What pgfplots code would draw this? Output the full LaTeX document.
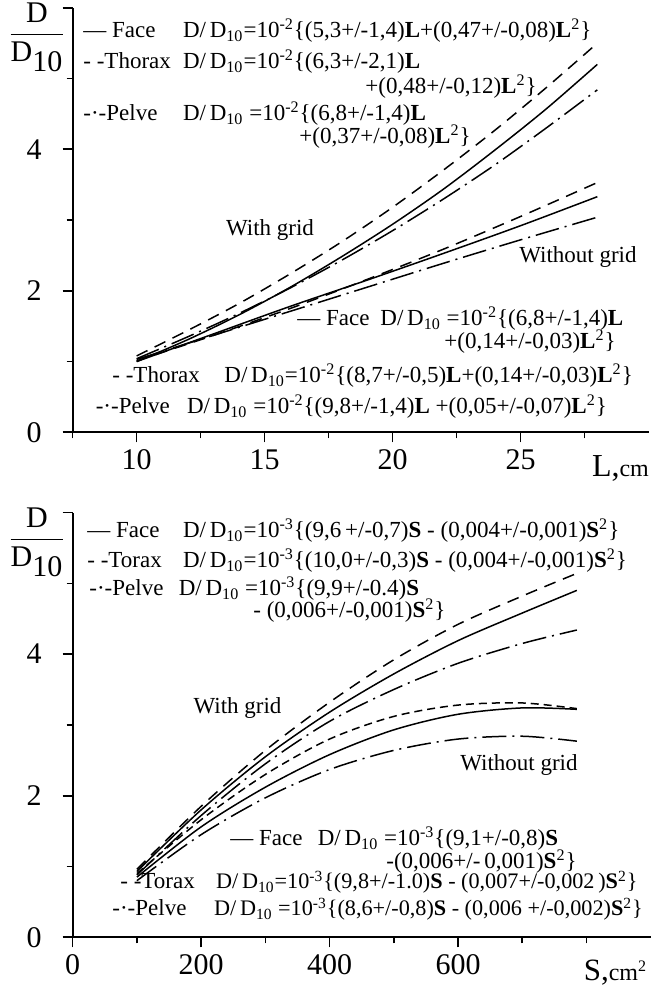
\documentclass[border=0pt]{standalone}
\usepackage{fontspec}
\setmainfont{Liberation Serif}
\usepackage{pgfplots}
\pgfplotsset{compat=1.18}

\newcommand\dd{D/\,D\textsubscript{10}}
\newcommand\Lb{\textbf{L}}
\newcommand\Lq{\textbf{L}\textsuperscript{2}}
\newcommand\Sb{\textbf{S}}
\newcommand\Sq{\textbf{S}\textsuperscript{2}}
\newcommand\txt{\fontsize{11.5}{13}\selectfont}

\pgfplotsset{
  panel/.style={
    anchor=south west, scale only axis,
    ymin=0, ymax=6,
    axis x line=bottom, axis y line=left,
    axis line style={-, line width=1pt},
    ytick={0,2,4,6}, yticklabels={0,2,4,{}},
    minor ytick={1,3,5},
    tick align=outside,
    major tick length=5pt, minor tick length=3pt,
    tick style={black, line width=0.8pt},
    ticklabel style={font=\fontsize{15}{15}\selectfont},
    yticklabel style={xshift=-7pt},
    /pgf/number format/assume math mode=true,
    clip=false,
  },
  face/.style={black, line width=0.75pt, smooth},
  thor/.style={black, line width=0.75pt, smooth, dash pattern=on 6pt off 4pt},
  thorb/.style={black, line width=0.75pt, smooth, dash pattern=on 4pt off 2.5pt},
  pelv/.style={black, line width=0.75pt, smooth, dash pattern=on 12pt off 3pt on 1pt off 3pt},
}

\begin{document}
\begin{tikzpicture}

% ---- top panel: D/D10 vs L
\begin{axis}[panel,
  at={(36.35pt,278.35pt)}, width=287.9pt, height=212.25pt,
  xmin=7.5, xmax=30,
  xtick={10,15,20,25}, minor xtick={7.5,12.5,17.5,22.5,27.5},
]
% with grid
\addplot[face] coordinates {(10,1.00)(12,1.31)(14,1.66)(16,2.05)(18,2.48)(20,2.94)(22,3.44)(24,3.99)(26,4.57)(28,5.20)};
\addplot[thor] coordinates {(10,1.08)(12,1.44)(14,1.82)(16,2.24)(18,2.69)(20,3.18)(22,3.71)(24,4.27)(26,4.87)(28,5.50)};
\addplot[pelv] coordinates {(10,1.04)(12,1.35)(14,1.68)(16,2.04)(18,2.43)(20,2.85)(22,3.30)(24,3.78)(26,4.30)(28,4.84)};
% without grid
\addplot[face] coordinates {(10,1.00)(13,1.39)(16,1.78)(19,2.15)(22,2.53)(25,2.92)(28,3.33)};
\addplot[thor] coordinates {(10,1.01)(13,1.37)(16,1.75)(19,2.16)(22,2.59)(25,3.05)(28,3.53)};
\addplot[pelv] coordinates {(10,1.03)(13,1.37)(16,1.71)(19,2.05)(22,2.39)(25,2.72)(28,3.04)};
\end{axis}

% ---- bottom panel: D/D10 vs S
\begin{axis}[panel,
  at={(36.35pt,25.85pt)}, width=289pt, height=212.4pt,
  xmin=0, xmax=900,
  xtick={0,200,400,600}, minor xtick={100,300,500,700,800},
]
% with grid
\addplot[face] coordinates {(100,0.93)(200,1.80)(300,2.55)(400,3.18)(500,3.72)(600,4.19)(700,4.58)(785,4.90)};
\addplot[thor] coordinates {(100,0.96)(200,1.85)(300,2.64)(400,3.32)(500,3.92)(600,4.42)(700,4.82)(785,5.14)};
\addplot[pelv] coordinates {(100,0.88)(200,1.72)(300,2.45)(400,3.05)(500,3.50)(600,3.87)(700,4.15)(785,4.34)};
% without grid
\addplot[face] coordinates {(100,0.85)(200,1.56)(300,2.12)(400,2.58)(500,2.93)(600,3.15)(700,3.24)(785,3.22)};
\addplot[thorb] coordinates {(100,0.90)(200,1.66)(300,2.30)(400,2.80)(500,3.12)(600,3.28)(700,3.31)(785,3.23)};
\addplot[pelv] coordinates {(100,0.80)(200,1.45)(300,1.97)(400,2.37)(500,2.64)(600,2.80)(700,2.84)(785,2.77)};
\end{axis}

\begin{scope}[every node/.style={inner sep=0pt, font=\txt}]
% axis titles
\node[font=\fontsize{15}{17}\selectfont] at (18.5pt,476pt) {$\displaystyle\frac{\textup{D}}{\textup{D}_{\textup{10}}}$};
\node[font=\fontsize{15}{17}\selectfont] at (18.5pt,223.3pt) {$\displaystyle\frac{\textup{D}}{\textup{D}_{\textup{10}}}$};
\node[anchor=base west] at (295.8pt,256.2pt) {\fontsize{16}{16}\selectfont L,\fontsize{12}{12}\selectfont cm};
\node[anchor=base west] at (291.7pt,4.5pt) {\fontsize{15.5}{16}\selectfont S,\fontsize{12}{12}\selectfont cm\textsuperscript{2}};

% top panel notes
\node[anchor=base west] at (41.5pt,475.5pt) {— Face};
\node[anchor=base west] at (91.3pt,475.5pt) {\dd=10\textsuperscript{-2}\{(5,3+/-1,4)\Lb+(0,47+/-0,08)\Lq\}};
\node[anchor=base west] at (41.5pt,460pt) {- -Thorax};
\node[anchor=base west] at (91.3pt,460pt) {\dd=10\textsuperscript{-2}\{(6,3+/-2,1)\Lb};
\node[anchor=base west] at (182.5pt,447.5pt) {+(0,48+/-0,12)\Lq\}};
\node[anchor=base west] at (41.5pt,434pt) {-·-Pelve};
\node[anchor=base west] at (91.3pt,434pt) {\dd\ =10\textsuperscript{-2}\{(6,8+/-1,4)\Lb};
\node[anchor=base west] at (149.5pt,422.5pt) {+(0,37+/-0,08)\Lq\}};
\node at (135pt,379.5pt) {With grid};
\node at (289pt,366pt) {Without grid};
\node[anchor=base west] at (148.5pt,331.5pt) {— Face};
\node[anchor=base west] at (190pt,331.5pt) {\dd\ =10\textsuperscript{-2}\{(6,8+/-1,4)\Lb};
\node[anchor=base west] at (222pt,320pt) {+(0,14+/-0,03)\Lq\}};
\node[anchor=base west] at (56pt,303pt) {- -Thorax};
\node[anchor=base west] at (112pt,303pt) {\dd=10\textsuperscript{-2}\{(8,7+/-0,5)\Lb+(0,14+/-0,03)\Lq\}};
\node[anchor=base west] at (47.7pt,287.5pt) {-·-Pelve};
\node[anchor=base west] at (93.3pt,287.5pt) {\dd\ =10\textsuperscript{-2}\{(9,8+/-1,4)\Lb\ +(0,05+/-0,07)\Lq\}};

% bottom panel notes
\node[anchor=base west] at (43.5pt,225.5pt) {— Face};
\node[anchor=base west] at (91.3pt,225.5pt) {\dd=10\textsuperscript{-3}\{(9,6\,+/-0,7)\Sb{} - (0,004+/-0,001)\Sq\}};
\node[anchor=base west] at (43.5pt,210.5pt) {- -Torax};
\node[anchor=base west] at (91.3pt,210.5pt) {\dd=10\textsuperscript{-3}\{(10,0+/-0,3)\Sb{} - (0,004+/-0,001)\Sq\}};
\node[anchor=base west] at (44.5pt,196.5pt) {-·-Pelve};
\node[anchor=base west] at (89.2pt,196.5pt) {\dd\ =10\textsuperscript{-3}\{(9,9+/-0.4)\Sb};
\node[anchor=base west] at (126.5pt,185.5pt) {- (0,006+/-0,001)\Sq\}};
\node at (118.75pt,140.5pt) {With grid};
\node at (259.5pt,112pt) {Without grid};
\node[anchor=base west] at (115pt,71.5pt) {— Face};
\node[anchor=base west] at (158.7pt,71.5pt) {\dd\ =10\textsuperscript{-3}\{(9,1+/-0,8)\Sb};
\node[anchor=base west] at (193pt,60pt) {-(0,006+/-\,0,001)\Sq\}};
\node[anchor=base west] at (60pt,50pt) {- -Torax};
\node[anchor=base west, font=\fontsize{11.1}{13}\selectfont] at (107.9pt,50pt) {\dd=10\textsuperscript{-3}\{(9,8+/-1.0)\Sb{} - (0,007+/-0,002\,)\Sq\}};
\node[anchor=base west] at (56pt,36.5pt) {-·-Pelve};
\node[anchor=base west, font=\fontsize{11.1}{13}\selectfont] at (106.9pt,36.5pt) {\dd{} =10\textsuperscript{-3}\{(8,6+/-0,8)\Sb{} - (0,006 +/-0,002)\Sq\}};
\end{scope}

\pgfresetboundingbox
\path (0,0) rectangle (325pt,494.5pt);
\end{tikzpicture}
\end{document}
